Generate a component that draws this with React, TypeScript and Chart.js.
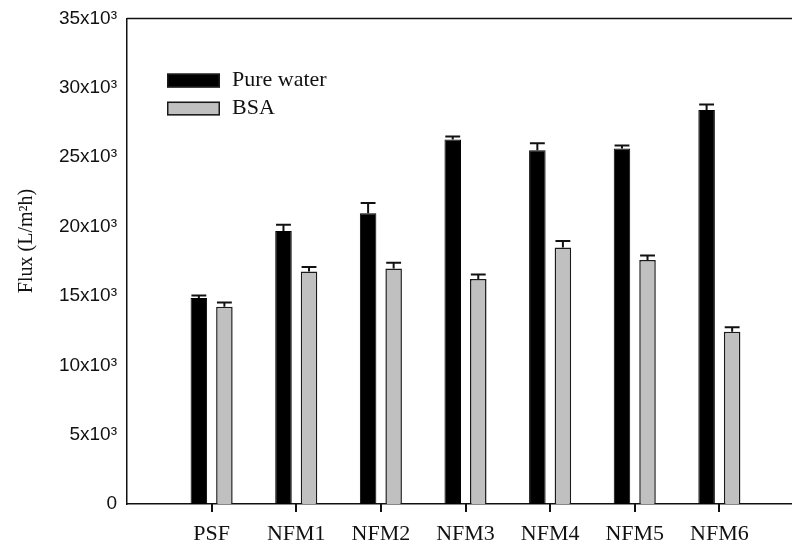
import React, { useEffect, useRef } from 'react';
import { Chart, registerables } from 'chart.js';

Chart.register(...registerables);

const categories = ['PSF', 'NFM1', 'NFM2', 'NFM3', 'NFM4', 'NFM5', 'NFM6'];
const pureWater = [14850, 19690, 20960, 26280, 25510, 25630, 28410];
const pureWaterErr = [190, 450, 740, 215, 500, 215, 390];
const bsa = [14230, 16770, 16980, 16220, 18490, 17590, 12410];
const bsaErr = [290, 310, 410, 330, 480, 335, 330];
const yMin = 0;
const yMax = 35000;
const yStep = 5000;
const yTitle = 'Flux (L/m²h)';
const seriesNames = ['Pure water', 'BSA'];

const SERIF = "'Liberation Serif', 'Times New Roman', serif";
const SANS = "'Liberation Sans', Arial, sans-serif";

const labels = ['', ...categories, ''];
const pad = (arr: number[]) => [null, ...arr, null];
const errs = [pad(pureWaterErr), pad(bsaErr)];

const errorBarPlugin = {
  id: 'errorBars',
  afterDatasetsDraw(chart: any) {
    const ctx = chart.ctx;
    const yScale = chart.scales.y;
    ctx.save();
    ctx.strokeStyle = '#111';
    ctx.lineWidth = 2;
    chart.data.datasets.forEach((ds: any, di: number) => {
      const meta = chart.getDatasetMeta(di);
      meta.data.forEach((el: any, i: number) => {
        const v = ds.data[i];
        const e = errs[di][i];
        if (v == null || e == null) return;
        const x = el.x;
        const yTop = yScale.getPixelForValue(v);
        const yCap = yScale.getPixelForValue(v + e);
        const half = el.width * 0.45;
        ctx.beginPath();
        ctx.moveTo(x, yTop);
        ctx.lineTo(x, yCap);
        ctx.moveTo(x - half, yCap);
        ctx.lineTo(x + half, yCap);
        ctx.stroke();
      });
    });
    ctx.restore();
  },
};

const framePlugin = {
  id: 'frameExtras',
  afterDraw(chart: any) {
    const { ctx, chartArea } = chart;
    const xScale = chart.scales.x;
    ctx.save();
    ctx.strokeStyle = '#111';
    ctx.lineWidth = 1.5;
    ctx.beginPath();
    ctx.moveTo(chartArea.left, chartArea.top);
    ctx.lineTo(chartArea.right, chartArea.top);
    ctx.stroke();

    // category tick marks below the x axis
    ctx.fillStyle = '#111';
    for (let i = 0; i < labels.length; i++) {
      if (!labels[i]) continue;
      const x = xScale.getPixelForTick(i);
      ctx.fillRect(Math.round(x) - 1, chartArea.bottom, 2, 8);
    }

    const lx = chartArea.left + 40;
    const ly = chartArea.top + 55;
    chart.data.datasets.forEach((ds: any, i: number) => {
      const y = ly + i * 28;
      ctx.fillStyle = ds.backgroundColor;
      ctx.fillRect(lx, y, 53, 14);
      ctx.strokeStyle = '#1a1a1a';
      ctx.lineWidth = 1.5;
      ctx.strokeRect(lx + 0.75, y + 0.75, 51.5, 12.5);
      ctx.fillStyle = '#111';
      ctx.font = `22px ${SERIF}`;
      ctx.textAlign = 'left';
      ctx.textBaseline = 'middle';
      ctx.fillText(ds.label, lx + 65, y + 7);
    });

    ctx.translate(27, 241);
    ctx.rotate(-Math.PI / 2);
    ctx.fillStyle = '#111';
    ctx.font = `20px ${SERIF}`;
    ctx.textAlign = 'center';
    ctx.textBaseline = 'middle';
    ctx.fillText(yTitle, 0, 0);
    ctx.restore();
  },
};

export default function App() {
  const ref = useRef<HTMLCanvasElement | null>(null);

  useEffect(() => {
    if (!ref.current) return;
    const chart = new Chart(ref.current, {
      type: 'bar',
      data: {
        labels,
        datasets: [
          {
            label: seriesNames[0],
            data: pad(pureWater),
            backgroundColor: '#000000',
            borderColor: '#000000',
            borderWidth: 1,
            categoryPercentage: 0.6036,
            barPercentage: 0.647,
          },
          {
            label: seriesNames[1],
            data: pad(bsa),
            backgroundColor: '#c0c0c0',
            borderColor: '#1a1a1a',
            borderWidth: 1.5,
            categoryPercentage: 0.6036,
            barPercentage: 0.647,
          },
        ] as any,
      },
      options: {
        animation: false,
        responsive: false,
        maintainAspectRatio: false,
        layout: { autoPadding: false, padding: { top: 17, right: 0, left: 0, bottom: 0 } },
        plugins: {
          legend: { display: false },
          tooltip: { enabled: false },
          title: { display: false },
        },
        scales: {
          x: {
            type: 'category',
            offset: false,
            grid: {
              display: false,
              offset: false,
              drawOnChartArea: false,
              drawTicks: false,
            },
            border: { display: true, color: '#111', width: 1.5 },
            ticks: {
              autoSkip: false,
              maxRotation: 0,
              minRotation: 0,
              padding: 17,
              color: '#111',
              font: { family: SERIF, size: 22 },
            },
            afterFit: (s: any) => {
              s.height = 43;
            },
          },
          y: {
            min: yMin,
            max: yMax,
            grid: { display: false, drawTicks: false },
            border: { display: true, color: '#111', width: 1.5 },
            ticks: {
              stepSize: yStep,
              padding: 10,
              color: '#111',
              font: { family: SANS, size: 19, lineHeight: 0.9 },
              callback: (v: any) => (Number(v) === 0 ? '0' : `${Number(v) / 1000}x10³`),
            },
            afterFit: (s: any) => {
              s.width = 127;
            },
          },
        },
      } as any,
      plugins: [errorBarPlugin, framePlugin],
    });
    return () => chart.destroy();
  }, []);

  return (
    <div
      style={{
        position: 'fixed',
        left: 0,
        top: 0,
        width: 792,
        height: 547,
        overflow: 'hidden',
        background: '#fff',
      }}
    >
      <canvas ref={ref} width={821} height={547} style={{ display: 'block', width: 821, height: 547 }} />
    </div>
  );
}
